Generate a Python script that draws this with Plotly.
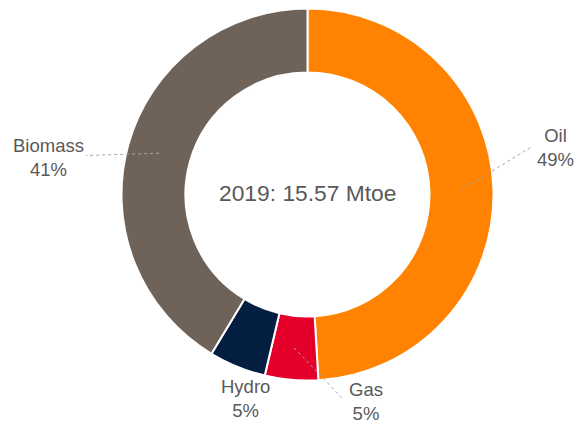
import numpy as np
import plotly.graph_objects as go

# energy supply 2019, Mtoe (total 15.57)
sources = ["Oil", "Gas", "Hydro", "Biomass"]
supply_mtoe = [7.64, 0.72, 0.77, 6.44]
colors = ["#FF8200", "#E4002B", "#041E42", "#6E6259"]
center_label = "2019: 15.57 Mtoe"

W, H = 576, 423
cx, cy = 307.5, 194.5          # donut centre in px (from top-left)
r_out = 186.0
hole = 0.656
r_mid = r_out * (1 + hole) / 2

# label block centres (px), leader end point (px) or None
label_pos = {
    "Oil": (555, 147.5, (533, 146)),
    "Gas": (365.5, 401, (344, 400)),
    "Hydro": (245, 398, None),
    "Biomass": (48, 157, (86, 155.5)),
}


def px_to_paper(x, y):
    return x / W, 1 - y / H


total = sum(supply_mtoe)
pct = [v / total for v in supply_mtoe]

fig = go.Figure(
    go.Pie(
        labels=sources,
        values=supply_mtoe,
        hole=hole,
        sort=False,
        direction="clockwise",
        rotation=0,
        textinfo="none",
        marker=dict(colors=colors, line=dict(color="white", width=2)),
        domain=dict(
            x=[(cx - r_out) / W, (cx + r_out) / W],
            y=[1 - (cy + r_out) / H, 1 - (cy - r_out) / H],
        ),
        showlegend=False,
    )
)

# labels + dotted leaders starting at the middle of the ring
start = 0.0
for name, p in zip(sources, pct):
    mid = (start + p / 2) * 2 * np.pi
    start += p
    lx, ly, end = label_pos[name]
    ax, ay = px_to_paper(lx, ly)
    fig.add_annotation(
        x=ax, y=ay, xref="paper", yref="paper",
        text=f"{name}<br>{round(p * 100)}%",
        showarrow=False, xanchor="center", yanchor="middle",
        font=dict(size=18.5, color="#595959"),
    )
    if end is not None:
        sx = cx + r_mid * np.sin(mid)
        sy = cy - r_mid * np.cos(mid)
        x0, y0 = px_to_paper(sx, sy)
        x1, y1 = px_to_paper(*end)
        fig.add_shape(
            type="line", xref="paper", yref="paper",
            x0=x0, y0=y0, x1=x1, y1=y1,
            line=dict(color="#A6A6A6", width=1, dash="dot"),
        )

fx, fy = px_to_paper(cx, cy - 1)
fig.add_annotation(
    x=fx, y=fy, xref="paper", yref="paper",
    text=center_label, showarrow=False,
    xanchor="center", yanchor="middle",
    font=dict(size=22.8, color="#595959"),
)

fig.update_layout(
    width=W, height=H,
    margin=dict(l=0, r=0, t=0, b=0),
    paper_bgcolor="white",
    plot_bgcolor="white",
    font=dict(family="Liberation Sans, Arial, sans-serif"),
)

# drop the default 8px body margin so the figure sits at the page corner
fig.write_html(
    "out.html",
    config={"displayModeBar": False},
    post_script="document.body.style.margin='0';",
)
